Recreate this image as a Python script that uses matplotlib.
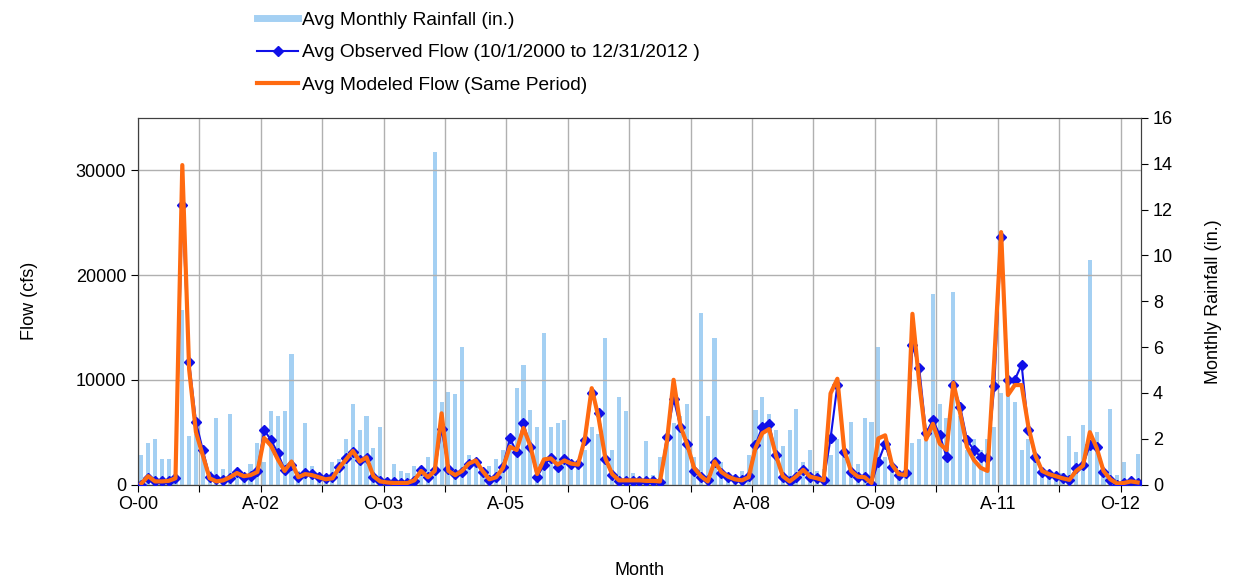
import numpy as np
import pandas as pd
import matplotlib
matplotlib.use('Agg')
import matplotlib.pyplot as plt
from matplotlib.lines import Line2D

plt.rcParams['font.family'] = ['Liberation Sans', 'DejaVu Sans']

# monthly data, Oct 2000 .. Dec 2012 (147 months)
months = pd.date_range('2000-10-01', periods=147, freq='MS')

rain = [1.3, 1.8, 2.0, 1.1, 1.1, 0.4, 7.6, 2.1, 2.2, 1.6,
        0.6, 2.9, 0.7, 3.1, 0.5, 0.4, 0.9, 1.8, 1.0, 3.2,
        3.0, 3.2, 5.7, 0.6, 2.7, 0.8, 0.5, 0.4, 1.0, 1.1,
        2.0, 3.5, 2.4, 3.0, 1.6, 2.5, 0.3, 0.9, 0.6, 0.5,
        0.8, 0.8, 1.2, 14.5, 3.6, 4.05, 3.95, 6.0, 1.3, 0.9,
        0.6, 0.8, 1.1, 1.5, 2.0, 4.2, 5.2, 3.25, 2.5, 6.6,
        2.5, 2.7, 2.8, 1.0, 0.8, 1.5, 2.5, 2.2, 6.4, 1.5,
        3.8, 3.2, 0.5, 0.3, 1.9, 0.4, 1.2, 2.0, 2.7, 3.0,
        3.5, 1.2, 7.5, 3.0, 6.4, 1.0, 0.5, 0.4, 0.6, 1.3,
        3.25, 3.8, 3.1, 2.4, 1.7, 2.4, 3.3, 1.0, 1.5, 0.6,
        0.7, 1.3, 2.0, 1.2, 2.74, 0.9, 2.9, 2.74, 6.0, 1.2,
        0.8, 0.6, 1.0, 1.8, 2.0, 1.9, 8.3, 3.5, 2.9, 8.4,
        3.0, 1.5, 2.0, 1.5, 2.0, 2.5, 4.0, 4.0, 3.6, 1.5,
        2.0, 1.2, 0.6, 0.5, 0.4, 0.5, 2.1, 1.4, 2.6, 9.8,
        2.3, 0.5, 3.3, 0.4, 1.0, 0.3, 1.35]

observed = [0, 600, 300, 300, 300, 600, 26700, 11700, 6000, 3300,
            750, 500, 450, 600, 1200, 700, 800, 1300, 5200, 4250,
            3000, 1400, 1850, 750, 1100, 1000, 700, 600, 700, 1700,
            2500, 3100, 2300, 2500, 750, 300, 200, 200, 150, 150,
            300, 1400, 750, 1400, 5350, 1500, 1000, 1200, 1950, 2200,
            1200, 450, 750, 1700, 4400, 3130, 5840, 3600, 750, 1860,
            2500, 1700, 2400, 2000, 2000, 4250, 8700, 6800, 2400, 900,
            300, 350, 350, 350, 300, 300, 250, 4500, 8200, 5500,
            3900, 1300, 750, 400, 2200, 1100, 750, 500, 400, 800,
            3800, 5500, 5800, 2800, 750, 300, 700, 1400, 750, 590,
            430, 4400, 9500, 3130, 1220, 750, 750, 100, 2200, 3900,
            1700, 930, 1100, 13300, 11100, 4900, 6160, 4730, 2650, 9500,
            7430, 4250, 3300, 2650, 2500, 9400, 23600, 10000, 10000, 11450,
            5200, 2650, 1220, 1000, 800, 640, 480, 1550, 1860, 3770,
            3600, 1220, 480, 0, 160, 320, 160]

modeled = [100, 800, 300, 300, 350, 600, 30500, 11000, 5000, 2800,
           600, 300, 400, 700, 1100, 800, 900, 1200, 4450, 3700,
           2400, 1300, 2200, 700, 1000, 900, 700, 500, 600, 1600,
           2400, 3200, 2200, 2600, 800, 300, 200, 150, 150, 150,
           400, 1300, 700, 1300, 6800, 1300, 900, 1300, 2000, 2300,
           1300, 500, 700, 1600, 3600, 3300, 5400, 3700, 1000, 2400,
           2500, 1900, 2300, 2000, 1900, 4400, 9200, 6400, 2500, 1000,
           400, 400, 400, 400, 350, 350, 300, 4000, 10000, 5600,
           3800, 1600, 800, 300, 2200, 1200, 750, 500, 400, 700,
           3500, 4900, 5300, 2800, 800, 300, 800, 1400, 750, 600,
           400, 8700, 10100, 3300, 1300, 750, 700, 150, 4400, 4700,
           1900, 1000, 900, 16300, 9700, 4300, 5800, 3900, 3300, 9700,
           6800, 3600, 2350, 1600, 1300, 12000, 24100, 8550, 9500, 9500,
           5500, 2800, 1300, 1000, 800, 600, 450, 1300, 1800, 5000,
           3500, 1300, 500, 100, 150, 300, 200]

x = np.arange(len(months))

fig = plt.figure(figsize=(12.35, 5.81), dpi=100)
ax = fig.add_axes([0.1117, 0.166, 0.8122, 0.631])
ax2 = ax.twinx()

# rainfall bars on the right axis, behind the flow lines
ax2.bar(x, rain, width=0.6, color='#a4d0f3', zorder=1)
ax2.set_ylim(0, 16)
ax2.set_yticks(np.arange(0, 17, 2))
ax2.tick_params(axis='y', labelsize=13, direction='out', length=5)
ax2.set_ylabel('Monthly Rainfall (in.)', fontsize=13, labelpad=23)

ax.set_zorder(ax2.get_zorder() + 1)
ax.patch.set_visible(False)

ax.plot(x, observed, color='#1010e8', lw=1.5, marker='D', ms=5.5, zorder=3)
ax.plot(x, modeled, color='#ff6a10', lw=3, zorder=4)

ax.set_ylim(0, 35000)
ax.set_yticks([0, 10000, 20000, 30000])
ax.set_xlim(-0.5, len(x) - 0.5)

tick_pos = np.arange(0, len(x), 9)
labels = []
for i in tick_pos:
    d = months[i]
    labels.append(d.strftime('%b')[0] + '-' + d.strftime('%y') if i % 18 == 0 else '')
ax.set_xticks(tick_pos - 0.5)
ax.set_xticklabels(labels)
ax.tick_params(axis='both', labelsize=13, direction='out', length=5)
ax.grid(True, color='#b0b0b0', lw=1)
ax.set_axisbelow(True)

ax.set_ylabel('Flow (cfs)', fontsize=13, labelpad=27)
ax.set_xlabel('Month', fontsize=13, labelpad=35)

for a in (ax, ax2):
    for s in a.spines.values():
        s.set_color('#404040')

handles = [Line2D([], [], color='#a4d0f3', lw=5),
           Line2D([], [], color='#1010e8', lw=1.5, marker='D', ms=5.5),
           Line2D([], [], color='#ff6a10', lw=3)]
names = ['Avg Monthly Rainfall (in.)',
         'Avg Observed Flow (10/1/2000 to 12/31/2012 )',
         'Avg Modeled Flow (Same Period)']
fig.legend(handles, names, loc='upper left', bbox_to_anchor=(0.1945, 1.01),
           frameon=False, fontsize=13.8, handlelength=2.1, handletextpad=0.25,
           labelspacing=0.78)

fig.savefig('out.png', dpi=100)
